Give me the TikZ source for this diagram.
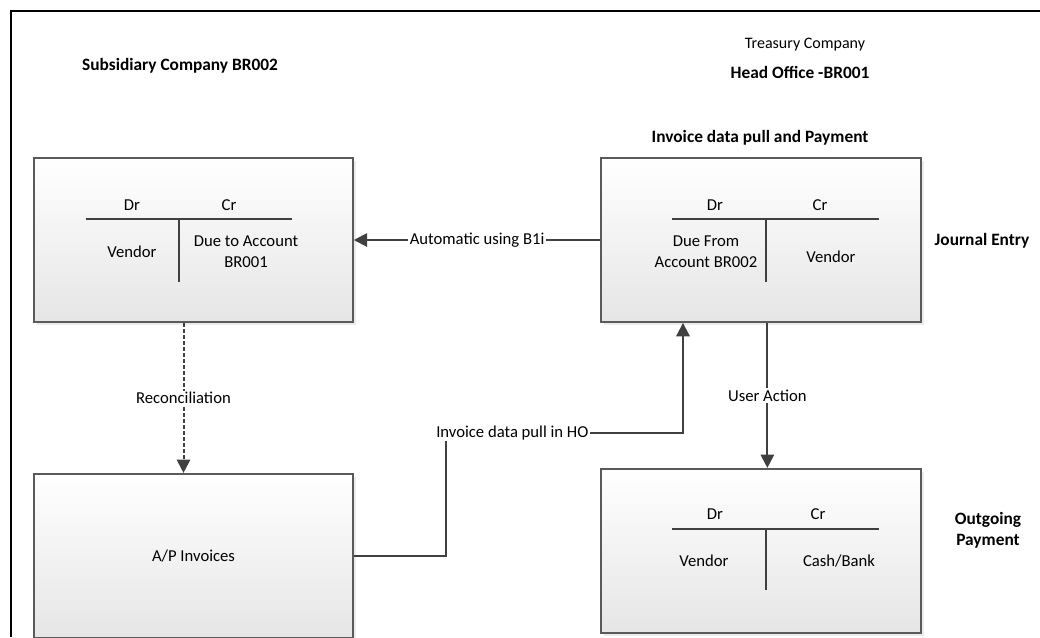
\documentclass[tikz,border=0pt]{standalone}
\usepackage{fontspec}
\setmainfont{Carlito}
\usetikzlibrary{arrows.meta,positioning,shadows}
\definecolor{lineGray}{HTML}{404040}
\definecolor{boxEdge}{HTML}{5A5A5A}

\begin{document}
\begin{tikzpicture}[x=0.75pt,y=-0.75pt,>={Triangle[length=10pt,width=10pt]},
  acct/.style={draw=boxEdge,line width=1.4pt,top color=white,bottom color=black!10,minimum width=239pt,minimum height=123pt,
    drop shadow={shadow xshift=2pt,shadow yshift=-2pt,opacity=0.15}},
  tline/.style={lineGray,line width=1.1pt},
  flow/.style={lineGray,line width=1.5pt},
  lbl/.style={fill=white,text=black,inner sep=1pt,font=\fontsize{12.5}{15}\selectfont},
  txt/.style={font=\fontsize{12.5}{15.5}\selectfont,align=center},
  head/.style={font=\bfseries\fontsize{13}{16}\selectfont,align=center}]
  \useasboundingbox (0,0) rectangle (1040,637);
  \draw[line width=2pt] (11,637) -- (11,11) -- (1040,11);

  % company headings
  \node[head] (subHead) at (180,66) {Subsidiary Company BR002};
  \node[font=\fontsize{12}{14}\selectfont] (tcHead) at (805,45) {Treasury Company};
  \node[head] (hoHead) at (800,72) {Head Office -BR001};
  \node[head] (pullHead) at (760,138) {Invoice data pull and Payment};
  \node[head] (jeHead) at (982,241) {Journal Entry};
  \node[head] (payHead) at (988,530) {Outgoing\\Payment};

  % boxes
  \node[acct] (jeSub) at (193.5,240) {};
  \node[acct,right=185pt of jeSub,minimum width=240pt] (jeHO) {};
  \node[acct,below=112.5pt of jeSub] (apInv) {};
  \node[acct,below=108.75pt of jeHO,minimum width=240pt] (pay) {};

  % subsidiary journal entry
  \draw[tline] (86,219) -- (292,219);
  \draw[tline] (179,219) -- (179,282);
  \node[txt] (subDr) at (132,205) {Dr};
  \node[txt] (subCr) at (229,205) {Cr};
  \node[txt] (subVen) at (132,252) {Vendor};
  \node[txt] (subDue) at (246,252) {Due to Account\\BR001};

  % head office journal entry
  \draw[tline] (672,219) -- (879,219);
  \draw[tline] (766,219) -- (766,282);
  \node[txt] (hoDr) at (715,205) {Dr};
  \node[txt] (hoCr) at (820,205) {Cr};
  \node[txt] (hoDue) at (706,252) {Due From\\Account BR002};
  \node[txt] (hoVen) at (831,257) {Vendor};

  % A/P invoices
  \node[txt] (apTxt) at (apInv) {A/P Invoices};

  % outgoing payment
  \draw[tline] (672,529) -- (879,529);
  \draw[tline] (766,529) -- (766,590);
  \node[txt] (payDr) at (715,514) {Dr};
  \node[txt] (payCr) at (818,514) {Cr};
  \node[txt] (payVen) at (704,561) {Vendor};
  \node[txt] (payBank) at (839,561) {Cash/Bank};

  % connectors
  \coordinate (pullBend) at (683,433);
  \draw[flow,->] (jeHO.west) -- node[lbl] {Automatic using B1i} (jeSub.east);
  \draw[flow,->,dash pattern=on 3pt off 1.5pt] ([xshift=-7.5pt]jeSub.south) -- node[lbl] {Reconciliation} ([xshift=-7.5pt]apInv.north);
  \draw[flow,->] (apInv.east) -| (446,433) -- node[lbl,pos=0.28] {Invoice data pull in HO} (pullBend) -- (pullBend |- jeHO.south);
  \draw[flow,->] ([xshift=4.5pt]jeHO.south) -- node[lbl] {User Action} ([xshift=4.5pt]pay.north);
\end{tikzpicture}
\end{document}
